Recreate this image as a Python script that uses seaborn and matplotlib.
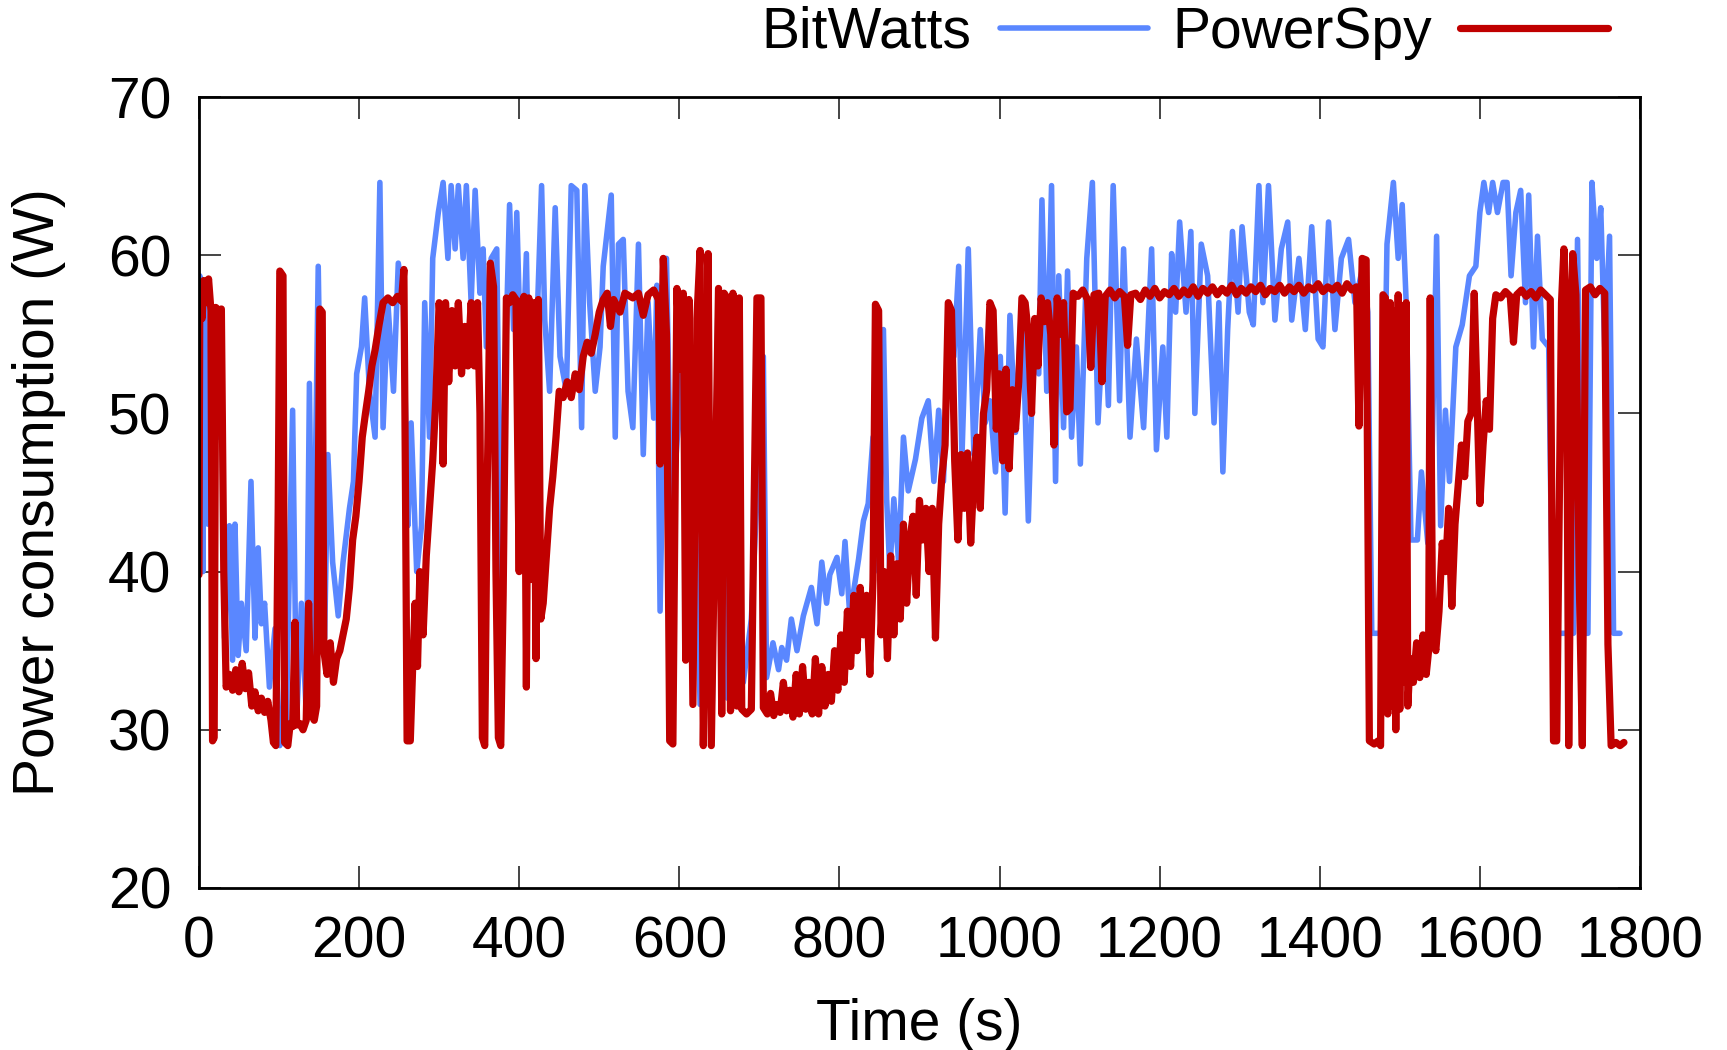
import numpy as np
import pandas as pd
import seaborn as sns
import matplotlib
matplotlib.use('Agg')
import matplotlib.pyplot as plt

# BitWatts estimate
bw_time = [0, 1, 5, 7, 11, 17, 24, 28, 32, 38, 42, 45, 49, 53, 59, 65, 70, 74, 78, 82,
           88, 95, 101, 109, 117, 122, 128, 134, 138, 142, 149, 153, 157, 161, 167, 174, 180, 188, 193, 197,
           203, 207, 213, 220, 226, 230, 236, 243, 249, 255, 261, 265, 272, 278, 282, 288, 292, 299, 305, 311,
           315, 320, 324, 330, 334, 340, 345, 351, 355, 359, 365, 372, 378, 382, 388, 393, 397, 403, 409, 415,
           422, 428, 432, 438, 445, 451, 459, 465, 472, 478, 482, 488, 495, 501, 505, 515, 520, 524, 530, 536,
           542, 549, 555, 561, 568, 572, 576, 584, 590, 603, 609, 620, 626, 636, 641, 648, 660, 670, 680, 690,
           705, 709, 717, 724, 728, 734, 740, 747, 755, 765, 772, 778, 784, 788, 797, 803, 807, 813, 824, 830,
           836, 842, 849, 855, 859, 863, 868, 874, 880, 886, 895, 903, 911, 918, 924, 930, 936, 943, 949, 953,
           961, 968, 976, 982, 988, 995, 1001, 1007, 1013, 1020, 1028, 1036, 1043, 1049, 1053, 1059, 1065, 1070, 1074, 1080,
           1085, 1090, 1096, 1101, 1109, 1116, 1123, 1131, 1136, 1142, 1150, 1155, 1163, 1171, 1180, 1190, 1196, 1204, 1209, 1215,
           1220, 1225, 1233, 1239, 1244, 1252, 1260, 1268, 1274, 1279, 1285, 1291, 1298, 1303, 1312, 1317, 1324, 1329, 1336, 1344,
           1352, 1360, 1365, 1374, 1382, 1390, 1398, 1404, 1411, 1419, 1427, 1436, 1444, 1454, 1460, 1465, 1476, 1484, 1492, 1498,
           1503, 1508, 1514, 1522, 1527, 1535, 1540, 1546, 1551, 1557, 1562, 1570, 1578, 1587, 1595, 1600, 1605, 1611, 1616, 1622,
           1629, 1634, 1639, 1645, 1651, 1657, 1661, 1667, 1672, 1678, 1686, 1691, 1700, 1710, 1717, 1722, 1728, 1735, 1740, 1746,
           1751, 1756, 1762, 1767, 1775]
bw_power = [48.5, 58.7, 40.0, 57.0, 43.0, 53.6, 48.5, 53.6, 35.8, 42.9, 34.4, 43.0, 34.7, 38.0, 35.0, 45.7, 35.8, 41.5, 36.7, 38.0,
            32.7, 36.4, 29.0, 30.2, 50.2, 30.5, 38.0, 31.0, 51.9, 33.8, 59.3, 45.7, 35.8, 47.4, 40.6, 37.2, 40.6, 44.0, 45.7, 52.5,
            54.2, 57.3, 51.4, 48.5, 64.6, 49.1, 57.0, 51.4, 59.5, 57.3, 42.9, 49.4, 40.0, 42.9, 57.0, 48.5, 59.8, 62.7, 64.6, 59.8,
            64.4, 60.4, 64.4, 59.8, 64.4, 57.0, 64.1, 57.6, 60.4, 54.2, 59.8, 60.4, 36.1, 51.4, 63.2, 55.3, 62.7, 51.4, 60.1, 42.9,
            55.3, 64.4, 55.9, 51.4, 63.0, 53.6, 51.4, 64.4, 64.1, 49.1, 64.4, 57.0, 51.4, 54.2, 59.3, 63.8, 48.5, 60.7, 61.0, 51.4,
            49.1, 60.7, 47.4, 57.0, 49.7, 58.1, 37.5, 59.8, 42.9, 52.5, 42.9, 43.7, 31.6, 58.0, 31.0, 56.0, 32.0, 45.0, 33.0, 37.0,
            53.6, 33.3, 35.5, 33.8, 35.2, 34.4, 37.0, 35.0, 37.2, 39.0, 36.7, 40.6, 38.0, 39.8, 40.9, 38.6, 41.9, 37.2, 40.8, 43.2,
            44.3, 48.5, 40.0, 55.3, 44.6, 40.0, 44.6, 40.6, 48.5, 45.1, 47.1, 49.7, 50.8, 45.7, 50.2, 45.7, 54.2, 53.6, 59.3, 47.1,
            60.4, 47.4, 55.3, 49.4, 50.8, 46.3, 53.6, 43.7, 56.2, 48.8, 57.3, 43.2, 55.3, 52.5, 63.5, 51.4, 64.4, 45.7, 58.7, 49.1,
            59.0, 48.5, 54.2, 46.8, 59.8, 64.6, 49.4, 57.0, 50.5, 64.4, 50.8, 60.4, 48.5, 54.7, 49.1, 60.4, 47.7, 54.2, 48.5, 60.1,
            56.4, 62.1, 56.4, 61.5, 50.0, 60.7, 58.7, 49.4, 57.0, 46.3, 55.3, 61.5, 56.4, 61.8, 56.4, 55.6, 64.4, 57.0, 64.4, 55.9,
            60.4, 62.1, 55.9, 59.8, 55.3, 61.8, 54.7, 54.2, 62.1, 55.3, 59.8, 61.0, 57.0, 59.3, 56.4, 36.1, 36.1, 60.7, 64.6, 59.8,
            63.2, 57.0, 42.0, 42.0, 46.3, 41.8, 46.6, 61.2, 42.9, 50.2, 45.7, 54.2, 55.6, 58.7, 59.3, 62.7, 64.6, 62.7, 64.6, 62.7,
            64.6, 64.6, 58.7, 62.7, 64.1, 57.0, 63.8, 54.2, 61.2, 54.7, 54.2, 36.1, 36.1, 36.1, 36.1, 61.0, 36.1, 36.1, 64.6, 59.8,
            63.0, 54.2, 61.2, 36.1, 36.1]

ps_time = [0, 1, 4, 6, 9, 12, 15, 17, 19, 21, 25, 28, 31, 34, 38, 42, 46, 50, 54, 58,
           62, 66, 70, 74, 78, 82, 86, 90, 93, 96, 99, 101, 105, 107, 111, 114, 117, 120, 122, 126,
           130, 134, 137, 140, 144, 147, 149, 151, 154, 156, 160, 164, 168, 172, 176, 180, 184, 188, 192, 196,
           200, 204, 208, 212, 216, 220, 225, 230, 236, 242, 248, 253, 256, 258, 260, 264, 267, 270, 273, 276,
           280, 284, 288, 292, 296, 300, 303, 305, 308, 312, 316, 320, 324, 328, 332, 336, 340, 344, 348, 351,
           354, 357, 360, 364, 368, 371, 374, 377, 380, 384, 388, 392, 396, 400, 403, 406, 409, 412, 415, 418,
           421, 424, 427, 430, 434, 438, 442, 446, 450, 455, 460, 465, 470, 475, 480, 485, 490, 495, 500, 505,
           510, 514, 518, 526, 532, 542, 549, 555, 561, 568, 574, 576, 580, 584, 588, 592, 597, 601, 605, 608,
           612, 617, 622, 626, 630, 633, 636, 640, 645, 649, 653, 656, 661, 664, 667, 672, 675, 678, 684, 690,
           697, 702, 705, 710, 714, 718, 722, 726, 730, 734, 738, 742, 746, 750, 754, 758, 762, 766, 770, 774,
           778, 782, 786, 790, 794, 798, 802, 806, 810, 814, 818, 822, 826, 830, 834, 838, 842, 845, 849, 852,
           856, 860, 864, 868, 872, 876, 880, 884, 888, 892, 896, 900, 904, 908, 912, 916, 920, 924, 928, 932,
           936, 940, 944, 948, 952, 956, 960, 964, 968, 972, 976, 980, 984, 988, 992, 996, 1000, 1004, 1008, 1012,
           1016, 1020, 1024, 1028, 1032, 1036, 1040, 1044, 1048, 1052, 1056, 1060, 1064, 1068, 1072, 1076, 1080, 1084, 1088, 1092,
           1098, 1104, 1110, 1114, 1118, 1124, 1128, 1132, 1138, 1144, 1150, 1156, 1160, 1164, 1170, 1176, 1182, 1188, 1194, 1200,
           1206, 1212, 1218, 1224, 1230, 1236, 1242, 1248, 1254, 1260, 1266, 1272, 1278, 1284, 1290, 1296, 1302, 1308, 1314, 1320,
           1326, 1332, 1338, 1344, 1350, 1356, 1362, 1368, 1374, 1380, 1386, 1392, 1398, 1404, 1410, 1416, 1422, 1428, 1434, 1440,
           1446, 1449, 1453, 1458, 1462, 1468, 1473, 1476, 1479, 1482, 1485, 1488, 1490, 1493, 1495, 1498, 1500, 1503, 1505, 1508,
           1510, 1513, 1517, 1521, 1525, 1529, 1533, 1536, 1538, 1541, 1545, 1549, 1553, 1557, 1561, 1565, 1569, 1573, 1577, 1581,
           1585, 1589, 1593, 1596, 1600, 1604, 1608, 1612, 1616, 1620, 1626, 1632, 1638, 1642, 1646, 1652, 1658, 1664, 1670, 1676,
           1682, 1688, 1692, 1696, 1702, 1705, 1708, 1711, 1714, 1716, 1720, 1724, 1728, 1732, 1738, 1744, 1750, 1756, 1760, 1764,
           1770, 1775, 1780]
ps_power = [39.8, 57.0, 56.0, 58.4, 57.0, 58.5, 56.5, 29.3, 29.5, 56.7, 56.5, 56.6, 40.0, 32.7, 33.5, 32.5, 33.8, 32.4, 34.2, 32.6,
            33.6, 31.5, 32.4, 31.2, 32.0, 31.1, 31.8, 30.6, 29.2, 29.0, 44.0, 59.0, 58.7, 29.2, 29.0, 30.4, 30.2, 36.8, 30.3, 30.4,
            30.0, 30.6, 38.0, 31.0, 30.6, 31.5, 45.0, 56.6, 56.4, 35.0, 33.5, 35.5, 33.0, 34.5, 35.0, 36.0, 37.0, 39.0, 42.0, 43.5,
            45.7, 48.5, 50.0, 51.4, 53.0, 54.0, 55.6, 57.0, 57.3, 57.0, 57.4, 57.1, 59.1, 45.0, 29.3, 29.3, 34.0, 38.0, 34.0, 40.0,
            36.0, 41.0, 44.0, 47.0, 51.0, 57.0, 55.0, 46.8, 57.0, 52.0, 56.5, 53.0, 57.0, 52.5, 55.5, 53.0, 57.0, 53.0, 57.0, 50.0,
            29.5, 29.0, 45.0, 59.5, 58.0, 40.0, 29.5, 29.0, 38.5, 57.3, 57.0, 57.5, 57.2, 40.0, 57.0, 57.4, 32.7, 57.3, 39.5, 57.0,
            34.5, 57.2, 37.0, 38.0, 41.0, 44.0, 46.0, 48.5, 51.4, 51.0, 52.0, 51.0, 52.5, 51.5, 53.6, 54.5, 53.8, 55.0, 56.4, 57.2,
            57.6, 55.5, 57.2, 56.4, 57.6, 57.3, 57.6, 56.2, 57.5, 57.8, 57.2, 46.8, 59.8, 55.0, 29.3, 29.1, 57.9, 52.8, 57.6, 34.4,
            57.2, 31.6, 56.0, 60.3, 29.0, 40.0, 60.1, 29.0, 45.0, 57.9, 31.0, 57.6, 57.2, 31.2, 57.6, 31.5, 57.3, 31.3, 31.0, 31.3,
            57.3, 57.3, 31.4, 31.0, 32.3, 30.9, 31.6, 31.1, 33.0, 31.2, 32.5, 30.8, 33.5, 31.0, 34.0, 31.3, 33.0, 31.0, 34.5, 31.0,
            34.0, 31.5, 33.5, 31.8, 35.0, 32.5, 36.0, 33.0, 37.5, 34.0, 38.5, 35.0, 39.0, 36.0, 38.5, 33.5, 39.5, 56.9, 56.5, 36.0,
            40.0, 34.5, 41.0, 36.0, 40.5, 37.0, 43.0, 38.0, 42.0, 43.5, 38.5, 44.5, 42.0, 44.0, 40.0, 44.0, 35.8, 43.0, 46.0, 48.0,
            57.0, 56.5, 47.0, 42.0, 47.4, 44.0, 47.5, 41.8, 46.0, 48.5, 44.0, 50.0, 51.5, 57.0, 56.5, 49.0, 52.5, 47.0, 52.8, 46.5,
            51.5, 49.0, 52.0, 57.3, 57.0, 55.0, 50.0, 56.0, 53.0, 57.3, 55.8, 57.0, 55.0, 48.0, 57.3, 55.0, 57.0, 50.1, 50.3, 57.6,
            57.4, 57.8, 57.2, 52.9, 57.5, 57.6, 52.0, 57.4, 57.8, 57.3, 57.7, 57.4, 54.3, 57.5, 57.6, 57.2, 57.8, 57.4, 57.9, 57.3,
            57.7, 57.5, 57.9, 57.4, 57.8, 57.5, 58.0, 57.4, 57.9, 57.6, 58.0, 57.5, 57.9, 57.6, 58.1, 57.5, 57.9, 57.6, 58.0, 57.7,
            58.1, 57.5, 57.9, 57.7, 58.1, 57.6, 58.0, 57.7, 58.1, 57.6, 58.0, 57.8, 58.2, 57.7, 58.0, 57.8, 58.1, 57.6, 58.2, 57.8,
            58.0, 49.2, 59.8, 59.7, 29.3, 29.1, 29.3, 29.0, 57.5, 57.3, 31.0, 57.0, 31.5, 56.5, 30.0, 57.5, 31.3, 56.8, 33.0, 57.0,
            31.5, 34.5, 33.0, 35.5, 33.3, 36.0, 33.5, 35.0, 57.3, 36.0, 35.0, 37.5, 41.8, 40.0, 44.0, 37.8, 43.0, 45.5, 48.0, 46.0,
            49.5, 50.0, 57.6, 52.0, 44.3, 48.0, 50.8, 49.0, 56.0, 57.5, 57.3, 57.7, 57.4, 54.5, 57.5, 57.8, 57.4, 57.7, 57.3, 57.8,
            57.5, 57.2, 29.3, 29.3, 57.0, 60.4, 57.0, 29.0, 45.0, 60.1, 57.5, 40.0, 29.0, 57.8, 58.0, 57.5, 57.9, 57.6, 35.4, 29.0,
            29.2, 29.0, 29.2]

x_ticks = [0, 200, 400, 600, 800, 1000, 1200, 1400, 1600, 1800]
y_ticks = [20, 30, 40, 50, 60, 70]

BLUE = '#5a87ff'
RED = '#c00000'
FS = 41

df = pd.concat([
    pd.DataFrame({'time': bw_time, 'power': bw_power, 'source': 'BitWatts'}),
    pd.DataFrame({'time': ps_time, 'power': ps_power, 'source': 'PowerSpy'}),
], ignore_index=True)

sns.set_theme(style='ticks')
plt.rcParams['font.family'] = ['Liberation Sans', 'DejaVu Sans']
plt.rcParams['text.color'] = 'black'
plt.rcParams['axes.labelcolor'] = 'black'

fig = plt.figure(figsize=(17.27, 10.5), dpi=100)
ax = fig.add_axes([0.1152, 0.1543, 0.8344, 0.7533])

sns.lineplot(data=df[df.source == 'BitWatts'], x='time', y='power', color=BLUE,
             linewidth=4.0, estimator=None, sort=False, ax=ax, legend=False)
sns.lineplot(data=df[df.source == 'PowerSpy'], x='time', y='power', color=RED,
             linewidth=5.2, estimator=None, sort=False, ax=ax, legend=False)

ax.set_xlim(0, 1800)
ax.set_ylim(20, 70)
ax.set_xticks(x_ticks)
ax.set_yticks(y_ticks)
ax.tick_params(direction='in', length=16, width=1.4, color='#444444', labelcolor='black',
               labelsize=FS, pad=20, top=True, right=True)
for s in ax.spines.values():
    s.set_linewidth(2.0)
    s.set_color('black')

ax.set_xlabel('Time (s)', fontsize=FS, labelpad=20)
ax.set_ylabel('Power consumption (W)', fontsize=FS, labelpad=30)

lines = ax.get_lines()
ax.legend(lines[:2], ['BitWatts', 'PowerSpy'], ncol=2, markerfirst=False, frameon=False,
          fontsize=FS, loc='center right', bbox_to_anchor=(0.978, 1.081),
          borderaxespad=0, borderpad=0, handlelength=2.6, handletextpad=0.5,
          columnspacing=0.42)

fig.savefig('out.png', dpi=100)
